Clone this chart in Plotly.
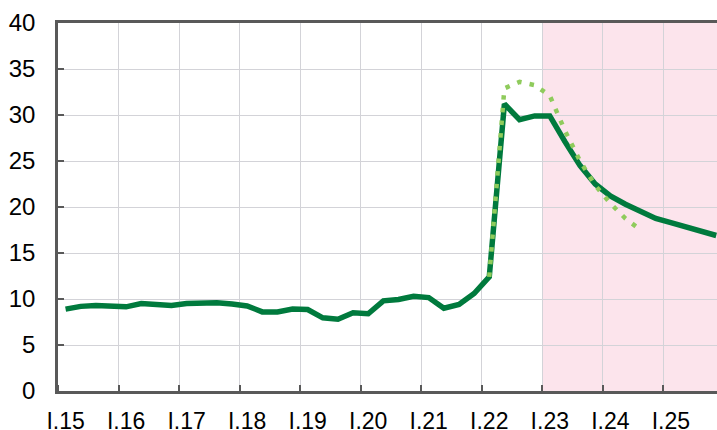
import plotly.graph_objects as go

# Quarterly data, I.15 .. IV.25 (index 0 = I.15)
solid_values = [
    8.9, 9.2, 9.3, 9.15,
    9.15, 9.5, 9.45, 9.3,
    9.5, 9.5, 9.6, 9.45,
    9.25, 8.6, 8.6, 8.9,
    8.85, 7.95, 7.8, 8.5,
    8.4, 9.8, 9.95, 10.3,
    10.15, 9.0, 9.4, 10.6,
    12.4, 31.2, 29.5, 29.9,
    29.9, 27.1, 24.5, 22.5,
    21.2, 20.3, 19.5, 18.75,
    18.3, 17.85, 17.4, 16.9,
]
dotted_start = 28  # I.22
dotted_values = [12.4, 32.9, 33.6, 33.25, 32.1, 28.3, 25.0, 22.35, 20.4, 18.75, 17.5]

year_labels = ["I.15", "I.16", "I.17", "I.18", "I.19", "I.20",
               "I.21", "I.22", "I.23", "I.24", "I.25"]
shade_from = 32  # I.23

x_solid = [i + 0.5 for i in range(len(solid_values))]
x_dot = [dotted_start + i + 0.5 for i in range(len(dotted_values))]

fig = go.Figure()
fig.add_trace(go.Scatter(
    x=x_solid, y=solid_values, mode="lines",
    line=dict(color="#007A3D", width=5.5),
    hoverinfo="skip", showlegend=False,
))
fig.add_trace(go.Scatter(
    x=x_dot, y=dotted_values, mode="lines",
    line=dict(color="#8FCB5C", width=4.5, dash="4.5px,8.2px"),
    hoverinfo="skip", showlegend=False,
))

fig.add_shape(type="rect", xref="x", yref="paper", x0=shade_from, x1=60, y0=0, y1=1,
              fillcolor="#FCE4EC", line=dict(width=0), layer="below")

fig.update_layout(
    width=717, height=430,
    margin=dict(l=58, r=0, t=23, b=39),
    paper_bgcolor="white", plot_bgcolor="white",
    font=dict(family="Liberation Sans, Arial, sans-serif", size=24, color="#000000"),
    showlegend=False,
)
fig.update_xaxes(
    range=[0, 43.55], automargin=False,
    tickmode="array",
    tickvals=[4 * k + 0.5 for k in range(len(year_labels))],
    ticktext=year_labels,
    tickfont=dict(size=23),
    ticks="", showgrid=False,
    ticklabelstandoff=8,
    showline=True, linecolor="#595959", linewidth=2.5, mirror=True,
    minor=dict(tickmode="array", tickvals=[4 * k for k in range(12)],
               ticks="inside", ticklen=6, tickwidth=2, tickcolor="#595959",
               showgrid=True, gridcolor="#D3D3D8", gridwidth=1),
    zeroline=False,
)
fig.update_yaxes(
    range=[0, 40], automargin=False, tickmode="array", tickvals=list(range(0, 45, 5)),
    ticks="inside", ticklen=6, tickwidth=2, tickcolor="#595959",
    showgrid=True, gridcolor="#D3D3D8", gridwidth=1,
    showline=True, linecolor="#595959", linewidth=2.5,
    ticklabelstandoff=15,
    zeroline=False,
)

fig.write_html(
    "out.html",
    config={"displayModeBar": False},
    post_script="document.body.style.margin='0';document.body.style.overflow='hidden';",
)
